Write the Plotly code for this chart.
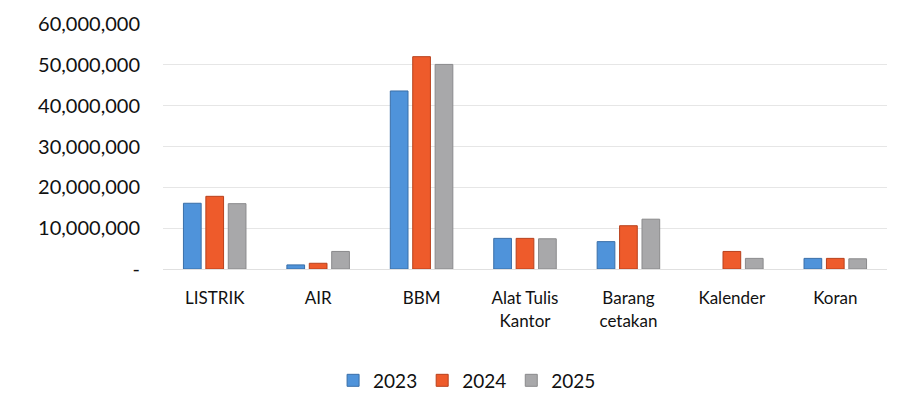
import plotly.graph_objects as go

categories = ["LISTRIK", "AIR", "BBM", "Alat Tulis<br>Kantor", "Barang<br>cetakan", "Kalender", "Koran"]
years = ["2023", "2024", "2025"]
values_2023 = [16100000, 1000000, 43600000, 7500000, 6700000, None, 2600000]
values_2024 = [17800000, 1400000, 52000000, 7500000, 10600000, 4300000, 2600000]
values_2025 = [16000000, 4300000, 50100000, 7400000, 12200000, 2600000, 2500000]
tick_vals = [0, 10000000, 20000000, 30000000, 40000000, 50000000, 60000000]
tick_text = ["-", "10,000,000", "20,000,000", "30,000,000", "40,000,000", "50,000,000", "60,000,000"]

colors = ["#4F93DA", "#EE5B2B", "#A8A8AA"]
borders = ["#3A6FA8", "#B8401C", "#8A8A8C"]
series = [values_2023, values_2024, values_2025]

fig = go.Figure()
for name, vals, c, b in zip(years, series, colors, borders):
    fig.add_trace(go.Bar(
        x=categories, y=vals, name=name,
        marker=dict(color=c, line=dict(color=b, width=1)),
    ))

fig.update_layout(
    width=904, height=414,
    margin=dict(l=163, r=17, t=24, b=145),
    paper_bgcolor="#FFFFFF", plot_bgcolor="#FFFFFF",
    barmode="group", bargap=0.35, bargroupgap=0.21,
    font=dict(family="Lato", color="#111111"),
    showlegend=True,
    legend=dict(orientation="h", x=0.42, xanchor="center", y=-0.455, yanchor="middle",
                font=dict(size=19, family="Lato", color="#111111"),
                traceorder="normal"),
)
fig.update_yaxes(range=[0, 60000000], tickvals=tick_vals, ticktext=tick_text,
                 showgrid=True, gridcolor="#E6E6E6", gridwidth=1,
                 zeroline=False, showline=False,
                 tickfont=dict(size=20, family="Lato", color="#111111"),
                 ticklabelstandoff=22)
fig.update_xaxes(showline=True, linecolor="#E0E0E0", linewidth=1,
                 tickfont=dict(size=17, family="Lato", color="#111111"),
                 ticklabelstandoff=14)

fig.write_html("out.html")
